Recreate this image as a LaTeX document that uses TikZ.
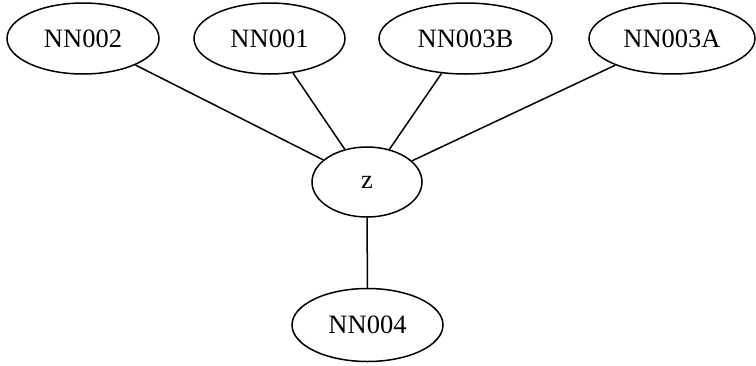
\documentclass[tikz,border=0pt]{standalone}
\usepackage{fontspec}
\setmainfont{Liberation Serif}
\usetikzlibrary{shapes.geometric}
\tikzset{
  vertex/.style={draw, ellipse, line width=1.5pt, inner sep=0pt,
    minimum height=71pt, font=\fontsize{26.5}{30}\selectfont},
  link/.style={line width=1.5pt}
}
\begin{document}
\begin{tikzpicture}[x=1pt, y=-1pt]
  \useasboundingbox (0,0) rectangle (756,365);
  \node[vertex, minimum width=152pt] (nn002)  at (83,38.5)  {NN002};
  \node[vertex, minimum width=151pt] (nn001)  at (269.5,38.5) {NN001};
  \node[vertex, minimum width=173pt] (nn003b) at (465.5,38.5) {NN003B};
  \node[vertex, minimum width=166pt] (nn003a) at (672,38.5) {NN003A};
  \node[vertex, minimum width=110pt, minimum height=70pt] (z) at (367,182) {z};
  \node[vertex, minimum width=151pt, minimum height=73pt] (nn004) at (367.5,325) {NN004};
  \draw[link] (nn002) -- (z);
  \draw[link] (nn001) -- (z);
  \draw[link] (nn003b) -- (z);
  \draw[link] (nn003a) -- (z);
  \draw[link] (z) -- (nn004);
\end{tikzpicture}
\end{document}
